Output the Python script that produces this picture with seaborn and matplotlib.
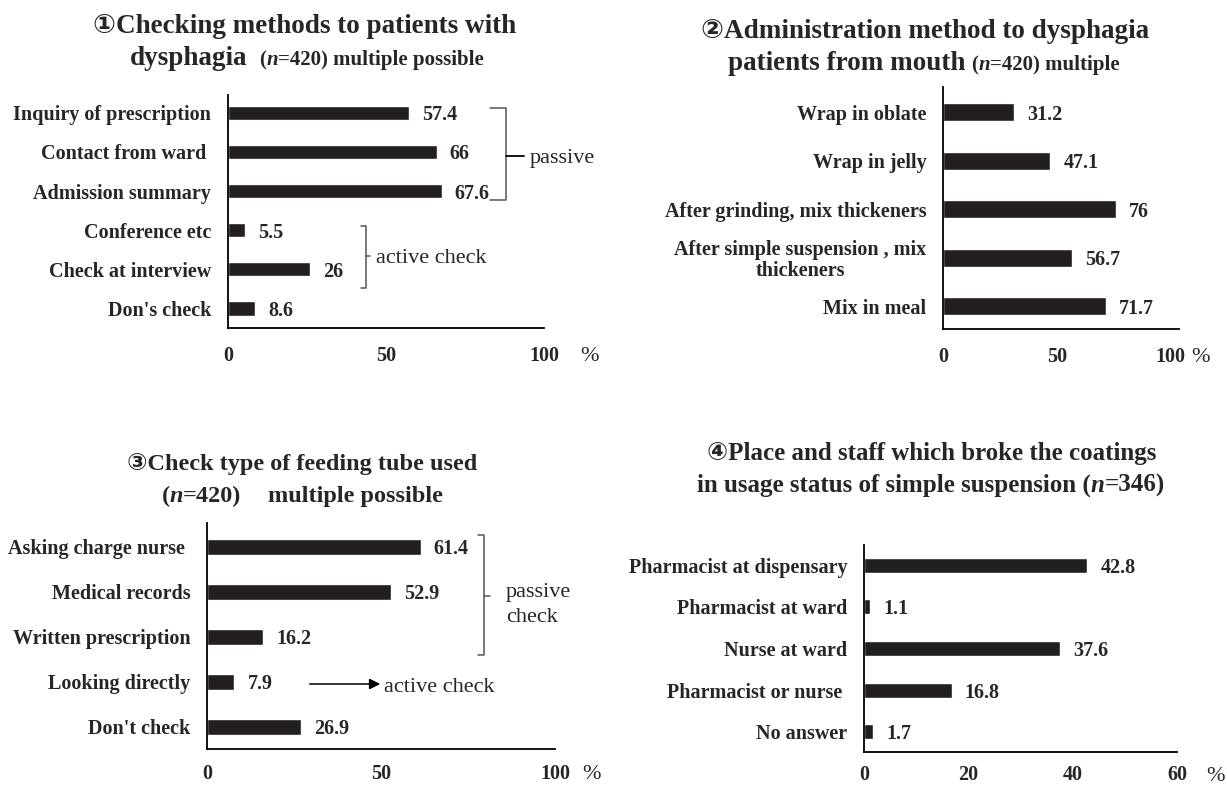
import numpy as np
import pandas as pd
import matplotlib.pyplot as plt
import seaborn as sns

sns.set_style("white")
plt.rcParams['font.family'] = ['Liberation Serif', 'DejaVu Sans', 'Noto Sans CJK JP']
plt.rcParams['font.weight'] = 'bold'

# ---- data ----
check_labels = ['Inquiry of prescription', 'Contact from ward ', 'Admission summary',
                'Conference etc', 'Check at interview', "Don's check"]
check_values = [57.4, 66, 67.6, 5.5, 26, 8.6]

admin_labels = ['Wrap in oblate', 'Wrap in jelly', 'After grinding, mix thickeners',
                'After simple suspension , mix\nthickeners', 'Mix in meal']
admin_values = [31.2, 47.1, 76, 56.7, 71.7]

tube_labels = ['Asking charge nurse ', 'Medical records', 'Written prescription',
               'Looking directly', "Don't check"]
tube_values = [61.4, 52.9, 16.2, 7.9, 26.9]

staff_labels = ['Pharmacist at dispensary', 'Pharmacist at ward', 'Nurse at ward',
                'Pharmacist or nurse ', 'No answer']
staff_values = [42.8, 1.1, 37.6, 16.8, 1.7]

BAR = '#231f20'
W, H = 1227, 787
fig = plt.figure(figsize=(W / 100, H / 100), dpi=100)


def px_axes(l, t, r, b):
    return fig.add_axes([l / W, 1 - b / H, (r - l) / W, (b - t) / H])


def panel(ax, labels, values, xmax, ticks, top, bottom, width, xpad=13):
    sns.barplot(x=values, y=labels, orient='h', color=BAR, saturation=1,
                width=width, ax=ax)
    for i, v in enumerate(values):
        ax.annotate(f'{v:g}', xy=(v, i), xytext=(9.5, 0), textcoords='offset points',
                    va='center_baseline', ha='left', fontsize=14.5, fontweight='bold')
    ax.set_xlim(0, xmax)
    ax.set_xticks(ticks)
    ax.set_ylim(len(values) - 1 + bottom, -top)
    ax.set_xlabel('')
    ax.set_ylabel('')
    sns.despine(ax=ax)
    for s in ['left', 'bottom']:
        ax.spines[s].set_color('black')
        ax.spines[s].set_linewidth(1.3)
    ax.tick_params(axis='x', length=0, pad=xpad, labelsize=14.5)
    ax.tick_params(axis='y', length=0, pad=12, labelsize=14.5)
    for lbl in ax.get_yticklabels():
        lbl.set_multialignment('center')
        lbl.set_linespacing(1.05)


ax1 = px_axes(228, 95, 544, 328)
panel(ax1, check_labels, check_values, 100, [0, 50, 100], 0.46, 0.51, 0.38)

ax2 = px_axes(943, 87, 1179, 329)
panel(ax2, admin_labels, admin_values, 103.7, [0, 50, 100], 0.52, 0.47, 0.37)

ax3 = px_axes(207, 523, 555, 749)
panel(ax3, tube_labels, tube_values, 100, [0, 50, 100], 0.53, 0.49, 0.36, xpad=11)

ax4 = px_axes(864, 545, 1177, 752)
panel(ax4, staff_labels, staff_values, 60, [0, 20, 40, 60], 0.48, 0.48, 0.36, xpad=9)

# overlay in pixel coordinates for titles and notes
ov = fig.add_axes([0, 0, 1, 1], zorder=5)
ov.set_xlim(0, W)
ov.set_ylim(H, 0)
ov.axis('off')
ov.patch.set_alpha(0)

fig.canvas.draw()
rend = fig.canvas.get_renderer()


def title_line(cx, y, pieces):
    objs, widths = [], []
    for s, size, italic, gap in pieces:
        t = ov.text(0, y, s, fontsize=size, fontweight='bold',
                    fontstyle='italic' if italic else 'normal', va='baseline', ha='left')
        objs.append(t)
        widths.append(t.get_window_extent(rend).width + gap)
    x = cx - sum(widths) / 2
    for t, w, p in zip(objs, widths, pieces):
        x += p[3]
        t.set_x(x)
        x += w - p[3]


title_line(305, 33, [('①Checking methods to patients with', 19.5, False, 0)])
title_line(307, 65, [('dysphagia', 19.5, False, 0), ('(', 15, False, 12),
                     ('n', 15, True, 0), ('=420) multiple possible', 15, False, 0)])
title_line(925, 38, [('②Administration method to dysphagia', 19.5, False, 0)])
title_line(924, 70, [('patients from mouth', 19.5, False, 0), ('(', 15, False, 6),
                     ('n', 15, True, 0), ('=420) multiple', 15, False, 0)])
title_line(302, 470, [('③Check type of feeding tube used', 17.5, False, 0)])
title_line(302, 502, [('(', 17.5, False, 0), ('n', 17.5, True, 0), ('=420)', 17.5, False, 0),
                      ('multiple possible', 17.5, False, 26)])
title_line(932, 460, [('④Place and staff which broke the coatings', 18, False, 0)])
title_line(931, 492, [('in usage status of simple suspension (', 18, False, 0),
                      ('n', 18, True, 0), ('=346)', 18, False, 0)])

note = dict(fontsize=16, fontweight='normal', va='center_baseline', ha='left')
ov.text(580, 354, '%', **note)
ov.text(1191, 355, '%', **note)
ov.text(582, 772, '%', **note)
ov.text(1206, 774, '%', **note)

gray = '#555555'
# panel 1 brackets
ov.plot([490, 506, 506, 490], [108, 108, 200, 200], color=gray, lw=1.1)
ov.plot([506, 524], [156, 156], color='black', lw=1.3)
ov.text(530, 156, 'passive', **note)
ov.plot([361, 366, 366, 361], [226, 226, 288, 288], color=gray, lw=1.1)
ov.plot([366, 370], [256, 256], color=gray, lw=1.1)
ov.text(376, 256, 'active check', **note)

# panel 3 bracket and arrow
ov.plot([478, 484, 484, 478], [535, 535, 655, 655], color=gray, lw=1.1)
ov.plot([484, 490], [596, 596], color=gray, lw=1.1)
ov.text(506, 600, 'passive\ncheck', linespacing=1.4, multialignment='left', **note)
ov.annotate('', xy=(383, 684), xytext=(307, 684),
            arrowprops=dict(arrowstyle='-|>', color='black', lw=1.1, mutation_scale=16))
ov.text(384, 685, 'active check', **note)

fig.savefig('out.png', dpi=100)
